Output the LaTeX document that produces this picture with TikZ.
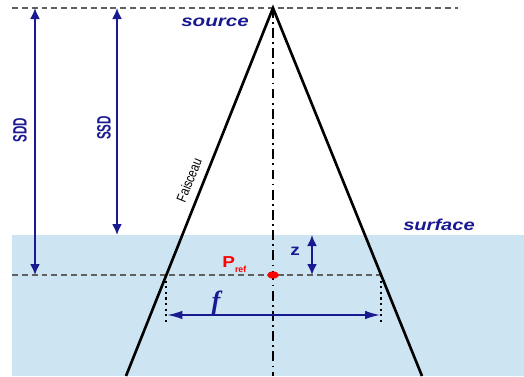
\documentclass[tikz,border=0pt]{standalone}
\usepackage{fontspec}
\setmainfont{Liberation Sans}
\newfontfamily\timesfont{Liberation Serif}
\usetikzlibrary{arrows.meta,calc,shapes.geometric}
\definecolor{navy}{RGB}{25,25,145}
\definecolor{water}{RGB}{205,228,242}
\colorlet{guide}{gray!75!black}

\begin{document}
\begin{tikzpicture}[x=0.02cm, y=-0.02cm, every node/.style={inner sep=0pt},
    guideline/.style={guide, line width=0.7pt, dash pattern=on 3.4pt off 2.2pt},
    beam/.style={black, line width=1.5pt},
    axisline/.style={black, line width=0.9pt, dash pattern=on 5.5pt off 2.5pt on 1pt off 2.5pt},
    dimarrow/.style={navy, line width=1.1pt, {Latex[length=2.2mm,width=2mm]}-{Latex[length=2.2mm,width=2mm]}},
    widtharrow/.style={navy, line width=0.9pt, {Latex[length=3mm,width=1.7mm]}-{Latex[length=3mm,width=1.7mm]}},
    bluetxt/.style={navy, font=\fontsize{9}{10}\selectfont\bfseries\itshape},
    sidetxt/.style={navy, rotate=90, font=\fontsize{11}{12}\selectfont\bfseries}]

    \useasboundingbox (0,0) rectangle (524,376);

    % water phantom
    \fill[water] (12,235) rectangle (524,376);

    % reference lines
    \coordinate (topL) at (12,8);
    \coordinate (topR) at (458,8);
    \coordinate (refL) at (12,275);
    \coordinate (refR) at (383,275);
    \foreach \a/\b in {topL/topR, refL/refR}{
        \draw[guideline] (\a) -- (\b);
    }

    % beam
    \coordinate (src) at (273,8);
    \coordinate (botL) at (126,376);
    \coordinate (botR) at (422,376);
    \coordinate (axisEnd) at (273,376);
    \draw[axisline] (src) -- (axisEnd);
    \draw[beam] (botL) -- (src) -- (botR);
    \node[font=\fontsize{8}{9}\selectfont, rotate=68] (faisceau) at (189,180) {\scalebox{0.8}[1]{Faisceau}};

    % field width at reference depth
    \coordinate (fL) at ($(src)!0.7255!(botL)$);
    \coordinate (fR) at ($(src)!0.7255!(botR)$);
    \foreach \p in {fL,fR}{
        \draw[black, line width=1.2pt, dotted] (\p) -- ($(\p)+(0,48)$);
    }
    \draw[widtharrow] ($(fL)+(1,40)$) -- ($(fR)+(-1,40)$);
    \node[navy, font=\timesfont\fontsize{15}{15}\selectfont\bfseries\itshape] (flbl) at (216,303) {f};

    % distances
    \coordinate (sddTop) at (35,8);
    \coordinate (sddBot) at (35,275);
    \coordinate (ssdTop) at (117,8);
    \coordinate (ssdBot) at (117,235);
    \coordinate (zTop) at (312,235);
    \coordinate (zBot) at (312,275);
    \foreach \a/\b in {sddTop/sddBot, ssdTop/ssdBot, zTop/zBot}{
        \draw[dimarrow] (\a) -- (\b);
    }
    \node[sidetxt] (sdd) at (20,130) {\scalebox{0.6}[1]{SDD}};
    \node[sidetxt] (ssd) at (104,128) {\scalebox{0.6}[1]{SSD}};
    \node[navy, font=\fontsize{9}{9}\selectfont\bfseries] (zlbl) at (295,251) {\scalebox{1.2}[1]{z}};

    % labels
    \node[bluetxt] (source) at (215,22) {\scalebox{1.3}[1]{source}};
    \node[bluetxt] (surface) at (439,225) {\scalebox{1.27}[1]{surface}};

    % reference point
    \node[ellipse, fill=red, minimum width=6.8pt, minimum height=4pt] (pref) at (273,275) {};
    \node[red, anchor=base west, font=\fontsize{9}{9}\selectfont\bfseries] (preflbl) at (222,267)
        {\scalebox{1.2}[1]{P}\raisebox{-0.7ex}{\fontsize{5}{5}\selectfont ref}};

\end{tikzpicture}
\end{document}
